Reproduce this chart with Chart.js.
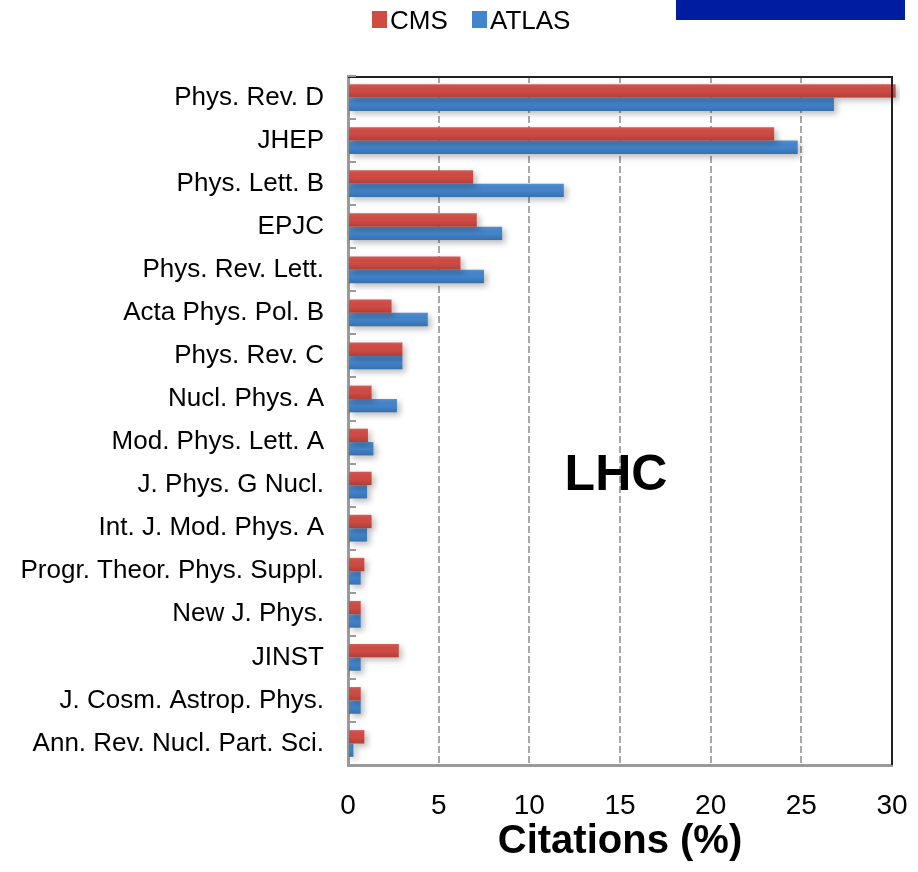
<!DOCTYPE html>
<html>
<head>
<meta charset="utf-8">
<script src="https://cdn.jsdelivr.net/npm/chart.js@4.4.1/dist/chart.umd.min.js"></script>
<style>
  html, body { margin: 0; padding: 0; background: #fff; }
  #wrap { width: 918px; height: 872px; position: relative; }
</style>
</head>
<body>
<div id="wrap"><canvas id="chart"></canvas></div>
<script>
const journals = [
  'Phys. Rev. D', 'JHEP', 'Phys. Lett. B', 'EPJC', 'Phys. Rev. Lett.',
  'Acta Phys. Pol. B', 'Phys. Rev. C', 'Nucl. Phys. A', 'Mod. Phys. Lett. A',
  'J. Phys. G Nucl.', 'Int. J. Mod. Phys. A', 'Progr. Theor. Phys. Suppl.',
  'New J. Phys.', 'JINST', 'J. Cosm. Astrop. Phys.', 'Ann. Rev. Nucl. Part. Sci.'
];
const cmsShare   = [30.2, 23.5, 6.9, 7.1, 6.2, 2.4, 3.0, 1.3, 1.1, 1.3, 1.3, 0.9, 0.7, 2.8, 0.7, 0.9];
const atlasShare = [26.8, 24.8, 11.9, 8.5, 7.5, 4.4, 3.0, 2.7, 1.4, 1.05, 1.05, 0.7, 0.7, 0.7, 0.7, 0.3];
const xMax = 30;
const xStep = 5;

const FONT = '"Liberation Sans", Arial, Helvetica, sans-serif';
const RED = '#d04b44';
const BLUE = '#4385cc';

// shadow + soft vertical shading on the bars, frame, legend, label
const decor = {
  id: 'decor',
  beforeDatasetsDraw(chart) {
    const ctx = chart.ctx;
    ctx.save();
    ctx.shadowColor = 'rgba(0,0,0,0.28)';
    ctx.shadowBlur = 6;
    ctx.shadowOffsetX = 3;
    ctx.shadowOffsetY = 3;
  },
  afterDatasetsDraw(chart) {
    const ctx = chart.ctx;
    ctx.restore();
    chart.data.datasets.forEach((ds, di) => {
      chart.getDatasetMeta(di).data.forEach(bar => {
        const top = bar.y - bar.height / 2;
        const g = ctx.createLinearGradient(0, top, 0, top + bar.height);
        g.addColorStop(0, 'rgba(255,255,255,0.10)');
        g.addColorStop(0.5, 'rgba(0,0,0,0)');
        g.addColorStop(1, 'rgba(0,0,0,0.16)');
        ctx.fillStyle = g;
        ctx.fillRect(bar.base, top, bar.x - bar.base, bar.height);
      });
    });
  },
  afterDraw(chart) {
    const ctx = chart.ctx;
    const a = chart.chartArea;
    const y = chart.scales.y;
    ctx.save();

    // top and right frame
    ctx.strokeStyle = '#222';
    ctx.lineWidth = 2;
    ctx.beginPath();
    ctx.moveTo(a.left, a.top + 1);
    ctx.lineTo(a.right, a.top + 1);
    ctx.lineTo(a.right, a.bottom);
    ctx.stroke();

    // short inward category ticks on the left axis
    const half = (y.getPixelForValue(1) - y.getPixelForValue(0)) / 2;
    ctx.strokeStyle = '#9a9a9a';
    ctx.lineWidth = 2;
    for (let i = 0; i <= journals.length; i++) {
      const py = Math.round(y.getPixelForValue(i) - half);
      ctx.beginPath();
      ctx.moveTo(a.left, py);
      ctx.lineTo(a.left + 8, py);
      ctx.stroke();
    }

    // legend
    ctx.font = '26px ' + FONT;
    ctx.textBaseline = 'middle';
    ctx.textAlign = 'left';
    ctx.fillStyle = RED;
    ctx.fillRect(372, 11, 15, 17);
    ctx.fillStyle = '#000';
    ctx.fillText('CMS', 390, 22);
    ctx.fillStyle = BLUE;
    ctx.fillRect(472, 11, 15, 17);
    ctx.fillStyle = '#000';
    ctx.fillText('ATLAS', 490, 22);

    // dark blue band, top right
    ctx.fillStyle = '#001ca0';
    ctx.fillRect(676, 0, 229, 20);

    // LHC label
    ctx.font = 'bold 50px ' + FONT;
    ctx.textAlign = 'center';
    ctx.fillStyle = '#000';
    ctx.fillText('LHC', 616, 476);
    ctx.restore();
  }
};

new Chart(document.getElementById('chart'), {
  type: 'bar',
  data: {
    labels: journals,
    datasets: [
      { label: 'CMS', data: cmsShare, backgroundColor: RED, clip: 8 },
      { label: 'ATLAS', data: atlasShare, backgroundColor: BLUE, clip: 8 }
    ]
  },
  options: {
    indexAxis: 'y',
    responsive: true,
    maintainAspectRatio: false,
    animation: false,
    categoryPercentage: 0.62,
    barPercentage: 1,
    layout: { padding: { top: 76, right: 26, left: 0, bottom: 0 } },
    plugins: { legend: { display: false }, tooltip: { enabled: false } },
    scales: {
      x: {
        min: 0,
        max: xMax,
        afterFit(s) { s.height = 107; s.paddingLeft = 0; s.paddingRight = 0; },
        ticks: { stepSize: xStep, color: '#000', padding: 24, font: { family: FONT, size: 28 } },
        grid: {
          drawTicks: false,
          lineWidth: 2,
          color: c => (c.tick && (c.tick.value === 0 || c.tick.value === xMax)) ? 'rgba(0,0,0,0)' : '#a8a8a8'
        },
        border: { color: '#9a9a9a', width: 3, dash: [7, 3] },
        title: {
          display: true,
          text: 'Citations (%)',
          color: '#000',
          padding: { top: 0, bottom: 6 },
          font: { family: FONT, size: 40, weight: 'bold' }
        }
      },
      y: {
        afterFit(s) { s.width = 348; },
        ticks: { color: '#000', padding: 16, font: { family: FONT, size: 26 } },
        grid: { display: false },
        border: { color: '#9a9a9a', width: 3 }
      }
    }
  },
  plugins: [decor]
});
</script>
</body>
</html>
